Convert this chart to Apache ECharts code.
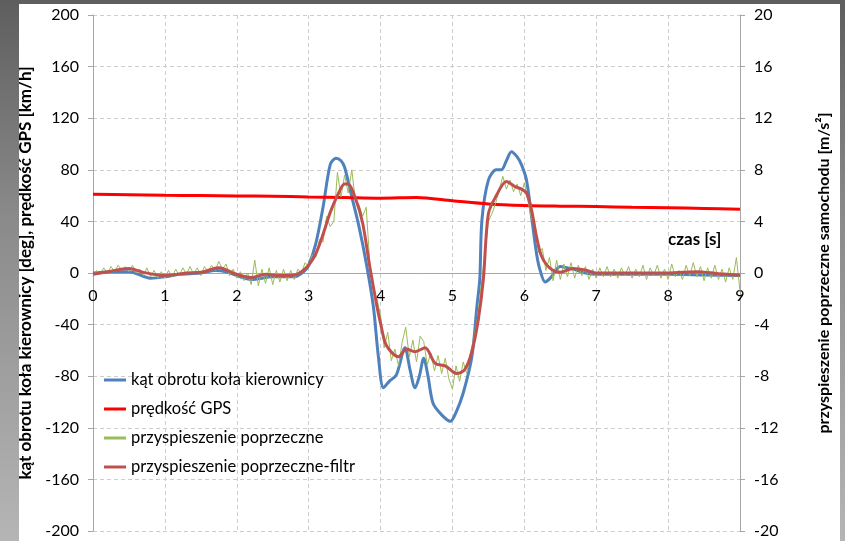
<!DOCTYPE html>
<html><head><meta charset="utf-8">
<script src="https://cdn.jsdelivr.net/npm/echarts@6/dist/echarts.min.js"></script>
<style>
html,body{margin:0;padding:0;}
#frame{position:relative;width:845px;height:541px;background:linear-gradient(to bottom,#5e5e5e 0%,#8a8a8a 40%,#b5b5b5 100%);overflow:hidden;}
#chart{position:absolute;left:19px;top:4px;width:821px;height:537px;background:#fff;}
</style></head><body>
<div id="frame"><div id="chart"></div></div>
<script>
// ---- data ----
const seriesNames = ['kąt obrotu koła kierownicy','prędkość GPS','przyspieszenie poprzeczne','przyspieszenie poprzeczne-filtr'];
const xTicks = [0,1,2,3,4,5,6,7,8,9];
const leftTicks = [-200,-160,-120,-80,-40,0,40,80,120,160,200];
const rightTicks = [-20,-16,-12,-8,-4,0,4,8,12,16,20];

const steerT = [0,0.3,0.5,0.8,1.0,1.2,1.5,1.7,1.85,2.0,2.2,2.5,2.8,2.95,3.0,3.1,3.2,3.3,3.38,3.45,3.5,3.6,3.7,3.8,3.9,3.97,4.04,4.12,4.22,4.34,4.41,4.48,4.54,4.6,4.66,4.73,4.85,4.97,5.05,5.15,5.27,5.34,5.38,5.41,5.5,5.61,5.68,5.75,5.82,5.9,5.96,6.03,6.1,6.17,6.22,6.29,6.36,6.5,6.6,6.68,6.85,7.0,7.5,8.0,8.5,9.0];
const steerV = [0,1,1,-4,-3,-1,0,2,1,-2,-5,-3,-3,2,6,23,51,84,89,87,82,59,36,8,-26,-65,-89,-84,-79,-58,-75,-89,-80,-66,-80,-101,-110,-115,-108,-93,-65,-26,-5,41,72,80,80,87,94,90,84,72,44,15,2,-7,-4,5,4,3,0,-1,-1,-1,-1.5,-2];

const gpsT = [0,0.5,1,1.5,2,2.5,3,3.5,4,4.5,5,5.5,6,6.5,7,7.5,8,8.5,9];
const gpsV = [61,60.7,60.3,60,59.7,59.5,59,58.5,58,58.5,56,53.5,52.3,51.8,51.5,51,50.6,50,49.4];

const accStep = 0.05;
const accV = [
 -0.3,0.2,-0.1,0.4,0.0,0.5,0.1,0.6,0.2,0.5,0.1,0.6,0.0,0.3,-0.2,0.4,-0.3,0.2,-0.4,0.1,
 -0.4,0.2,-0.3,0.3,-0.2,0.4,-0.1,0.5,-0.1,0.4,-0.2,0.5,0.1,0.6,0.2,0.9,0.3,0.7,-0.2,0.3,
 -0.4,0.1,-0.6,0.0,-0.9,1.0,-1.0,0.3,-0.8,0.4,-0.9,0.2,-0.7,0.3,-0.6,0.2,-0.5,0.3,0.0,0.8,
 0.5,1.4,1.2,2.6,2.4,4.4,3.6,4.0,7.8,5.9,7.6,6.2,8.0,5.6,5.3,4.4,5.1,0.8,-1.5,-2.0,
 -3.3,-5.8,-4.6,-6.8,-5.9,-7.2,-5.4,-4.2,-6.5,-5.2,-6.9,-4.9,-5.3,-7.1,-6.2,-7.6,-6.4,-7.8,-6.6,-8.2,
 -9.0,-7.2,-8.4,-6.9,-7.8,-6.2,-5.0,-3.4,-1.0,1.5,4.0,4.6,5.4,6.4,7.5,6.5,7.2,6.3,6.9,6.0,
 7.0,5.6,4.2,3.5,1.6,1.9,0.2,1.2,-0.6,1.0,-0.5,0.7,-0.3,0.8,-0.4,0.6,-0.2,0.5,-0.5,0.3,
 -0.4,0.4,-0.3,0.5,-0.3,0.3,-0.4,0.4,-0.2,0.5,-0.4,0.3,-0.3,0.6,-0.5,0.4,-0.2,0.6,-0.4,0.3,
 -0.5,0.7,-0.3,0.2,-0.5,0.6,-0.2,0.8,-0.3,0.5,-0.6,0.4,-0.4,0.6,-0.5,0.3,-0.7,0.4,-0.5,1.2,
 -1.4
];

const filtT = [0,0.2,0.5,0.7,1.0,1.3,1.5,1.75,2.0,2.2,2.4,2.6,2.8,2.9,3.0,3.1,3.2,3.3,3.4,3.5,3.55,3.65,3.75,3.85,3.95,4.0,4.08,4.25,4.36,4.48,4.62,4.76,4.9,5.06,5.17,5.27,5.36,5.43,5.5,5.61,5.75,5.87,5.96,6.03,6.1,6.17,6.24,6.36,6.5,6.68,6.87,7.0,7.5,8.0,8.4,8.7,9.0];
const filtV = [-0.1,0.1,0.35,0.05,-0.2,0,0.05,0.4,-0.1,-0.35,-0.1,-0.2,-0.15,0.1,0.6,1.5,3.0,4.7,6.0,6.9,6.9,5.8,3.9,0.5,-2.6,-3.9,-5.6,-6.5,-5.9,-6.1,-5.8,-7.0,-7.2,-7.8,-7.5,-6.1,-3.6,-0.5,4.6,6.0,7.1,6.7,6.5,6.2,4.9,2.8,1.3,0.35,0.05,0.35,0.2,0,0,0,0.1,-0.05,-0.15];

const leftTitle = 'kąt obrotu koła kierownicy [deg], prędkość GPS [km/h]';
const rightTitle = 'przyspieszenie poprzeczne samochodu [m/s²]';
const xTitle = 'czas [s]';

// ---- build ----
const pair = (t, v) => t.map((x, i) => [x, v[i]]);
const accData = accV.map((v, i) => [+(i * accStep).toFixed(2), v]);
const FONT = 'Lato, "Open Sans", sans-serif';
const gridLine = {lineStyle:{type:[4,3], color:'#cdcdcd', width:1}};
const axisGray = '#a6a6a6';
const CH = 537, GT = 11, GB = 10;
const plotH = CH - GT - GB;

const chart = echarts.init(document.getElementById('chart'), null, {renderer:'canvas'});
chart.setOption({
  animation:false,
  backgroundColor:'#ffffff',
  textStyle:{fontFamily:FONT},
  grid:{left:74, right:100, top:GT, bottom:GB, outerBoundsMode:'none', containLabel:false},
  legend:{
    orient:'vertical', left:80, top:362, icon:'rect', itemWidth:22, itemHeight:3, itemGap:11,
    textStyle:{fontSize:16.5, color:'#000', lineHeight:18, fontFamily:FONT},
    data:seriesNames
  },
  xAxis:{
    type:'value', min:xTicks[0], max:xTicks[xTicks.length-1], interval:1,
    offset:-plotH/2,
    axisLine:{onZero:false, lineStyle:{color:axisGray}},
    axisTick:{show:false},
    axisLabel:{fontSize:16, color:'#000', margin:15, fontFamily:FONT},
    splitLine:Object.assign({show:true}, gridLine)
  },
  yAxis:[{
    type:'value', min:leftTicks[0], max:leftTicks[leftTicks.length-1], interval:40, position:'left',
    axisLine:{show:true, onZero:false, lineStyle:{color:axisGray}},
    axisTick:{show:true, length:5, lineStyle:{color:axisGray}},
    axisLabel:{fontSize:16, color:'#000', margin:14, fontFamily:FONT},
    splitLine:Object.assign({show:true}, gridLine),
    name:leftTitle, nameLocation:'middle', nameGap:54, nameRotate:90,
    nameTextStyle:{fontWeight:'bold', fontSize:17, color:'#000', fontFamily:FONT}
  },{
    type:'value', min:rightTicks[0], max:rightTicks[rightTicks.length-1], interval:4, position:'right',
    axisLine:{show:true, onZero:false, lineStyle:{color:axisGray}},
    axisTick:{show:true, length:5, lineStyle:{color:axisGray}},
    axisLabel:{fontSize:16, color:'#000', margin:14, fontFamily:FONT},
    splitLine:{show:false},
    name:rightTitle, nameLocation:'middle', nameGap:76, nameRotate:90,
    nameTextStyle:{fontWeight:'bold', fontSize:16, color:'#000', fontFamily:FONT}
  }],
  graphic:[{
    type:'text', left:649, top:227,
    style:{text:xTitle, font:'bold 17px Lato', fill:'#000'}
  }],
  series:[
    {name:seriesNames[0], type:'line', yAxisIndex:0, data:pair(steerT, steerV), showSymbol:false, smooth:0.3,
     lineStyle:{color:'#4F81BD', width:3}, itemStyle:{color:'#4F81BD'}, z:2},
    {name:seriesNames[1], type:'line', yAxisIndex:0, data:pair(gpsT, gpsV), showSymbol:false, smooth:0.3,
     lineStyle:{color:'#FF0000', width:3}, itemStyle:{color:'#FF0000'}, z:3},
    {name:seriesNames[2], type:'line', yAxisIndex:1, data:accData, showSymbol:false, smooth:false,
     lineStyle:{color:'#9BBB59', width:1}, itemStyle:{color:'#9BBB59'}, z:4},
    {name:seriesNames[3], type:'line', yAxisIndex:1, data:pair(filtT, filtV), showSymbol:false, smooth:0.3,
     lineStyle:{color:'#C0504D', width:3}, itemStyle:{color:'#C0504D'}, z:5}
  ]
});
</script>
</body></html>
